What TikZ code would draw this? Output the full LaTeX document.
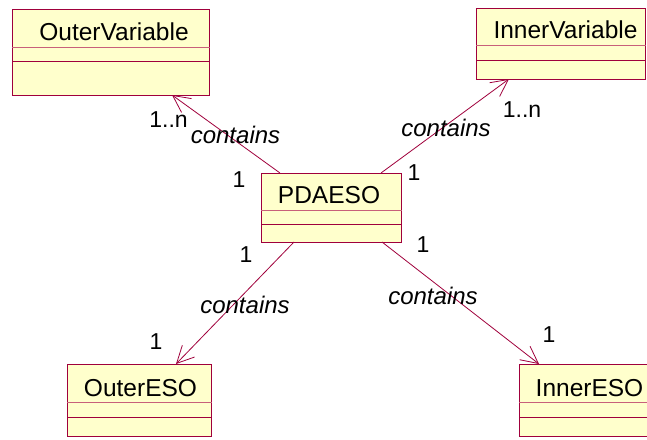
\documentclass[tikz,border=0pt]{standalone}
\usepackage{fontspec}
\setmainfont{Liberation Sans}
\usetikzlibrary{arrows.meta}
\definecolor{umlline}{HTML}{A0003C}
\definecolor{umldiv}{HTML}{C8607A}
\definecolor{umlfill}{HTML}{FFFFCC}
\begin{document}
\begin{tikzpicture}[x=1pt,y=-1pt,
  classbox/.style={draw=umlline, fill=umlfill, line width=1.3pt, rectangle, inner sep=0pt, anchor=north west},
  divlight/.style={draw=umldiv, line width=1pt},
  divdark/.style={draw=umlline, line width=1pt},
  classname/.style={font=\fontsize{24.5}{29}\selectfont, anchor=base, inner sep=0pt},
  lbl/.style={font=\fontsize{23}{27}\selectfont, anchor=base, inner sep=0pt},
  rolelbl/.style={font=\fontsize{24}{28}\selectfont\itshape, anchor=base, inner sep=0pt},
  assoc/.style={draw=umlline, line width=0.8pt, -{Straight Barb[length=17pt,width=17pt,line width=0.8pt]}}]
\useasboundingbox (0,0) rectangle (647,439);
\clip (0,0) rectangle (647,439);
\fill[white] (0,0) rectangle (647,439);

% class boxes
\node[classbox, minimum width=197pt, minimum height=86pt] (ov) at (12,9) {};
\draw[divlight] ([yshift=-38pt]ov.north west) -- ([yshift=-38pt]ov.north east);
\draw[divdark] ([yshift=-52pt]ov.north west) -- ([yshift=-52pt]ov.north east);
\node[classname] (ovt) at (114,40) {OuterVariable};

\node[classbox, minimum width=169pt, minimum height=71pt] (iv) at (476,8) {};
\draw[divlight] ([yshift=-37pt]iv.north west) -- ([yshift=-37pt]iv.north east);
\draw[divdark] ([yshift=-52pt]iv.north west) -- ([yshift=-52pt]iv.north east);
\node[classname] (ivt) at (565.5,38) {InnerVariable};

\node[classbox, minimum width=140pt, minimum height=69pt] (pda) at (261,173) {};
\draw[divlight] ([yshift=-37pt]pda.north west) -- ([yshift=-37pt]pda.north east);
\draw[divdark] ([yshift=-51pt]pda.north west) -- ([yshift=-51pt]pda.north east);
\node[classname] (pdat) at (329,203) {PDAESO};

\node[classbox, minimum width=144pt, minimum height=72pt] (oe) at (67,364) {};
\draw[divlight] ([yshift=-38pt]oe.north west) -- ([yshift=-38pt]oe.north east);
\draw[divdark] ([yshift=-53pt]oe.north west) -- ([yshift=-53pt]oe.north east);
\node[classname] (oet) at (140.5,396) {OuterESO};

\node[classbox, minimum width=135pt, minimum height=72pt] (ie) at (519,364) {};
\draw[divlight] ([yshift=-38pt]ie.north west) -- ([yshift=-38pt]ie.north east);
\draw[divdark] ([yshift=-53pt]ie.north west) -- ([yshift=-53pt]ie.north east);
\node[classname] (iet) at (589.5,396) {InnerESO};

% connector end points on the box edges
\coordinate (pdaA) at (280,173);
\coordinate (ovA) at (172,95);
\coordinate (pdaB) at (381,173);
\coordinate (ivB) at (509,79);
\coordinate (pdaC) at (294,242);
\coordinate (oeC) at (176,364);
\coordinate (pdaD) at (382,242);
\coordinate (ieD) at (539,364);

\draw[assoc] (pdaA) -- (ovA);
\draw[assoc] (pdaB) -- (ivB);
\draw[assoc] (pdaC) -- (oeC);
\draw[assoc] (pdaD) -- (ieD);

% labels
\node[lbl] (m1) at (168.5,127) {1..n};
\node[rolelbl] (r1) at (235.5,143) {contains};
\node[lbl] (m2) at (239,187) {1};

\node[rolelbl] (r2) at (446,136) {contains};
\node[lbl] (m3) at (522,117) {1..n};
\node[lbl] (m4) at (414,180) {1};

\node[lbl] (m5) at (246,262) {1};
\node[rolelbl] (r3) at (245,313) {contains};
\node[lbl] (m6) at (156,349) {1};

\node[lbl] (m7) at (423,252) {1};
\node[rolelbl] (r4) at (433,304) {contains};
\node[lbl] (m8) at (549,342) {1};
\end{tikzpicture}
\end{document}
